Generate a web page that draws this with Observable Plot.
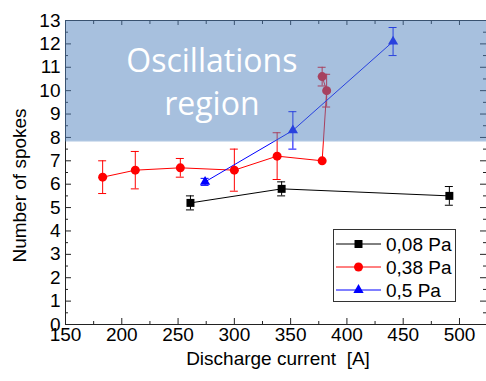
<!DOCTYPE html>
<html><head><meta charset="utf-8">
<script src="https://cdn.jsdelivr.net/npm/d3@7"></script>
<script src="https://cdn.jsdelivr.net/npm/@observablehq/plot@0.6"></script>
<style>
body{margin:0;background:#fff;}
#wrap{position:relative;width:486px;height:381px;overflow:hidden;}
#legend{position:absolute;left:333px;top:229px;width:121px;height:71px;border:1px solid #333;background:#fff;}
</style></head><body><div id="wrap"></div>
<script>
// ---- data ----
const series = ["0,08 Pa", "0,38 Pa", "0,5 Pa"];
const colors = ["#000000", "#ff0000", "#0000ff"];
const symbols = ["square", "circle", "triangle"];
const markerR = [4.5, 4.5, 3.8];

const current008 = [261, 342, 491];
const spokes008 = [5.2, 5.8, 5.5];
const err008 = [0.3, 0.3, 0.4];

const current038 = [183, 212, 252, 300, 338, 378, 382, 378];
const spokes038 = [6.3, 6.6, 6.7, 6.6, 7.2, 7.0, 10.0, 10.6];
const err038 = [0.7, 0.8, 0.4, 0.9, 1.0, 0, 0.7, 0.4];

const current05 = [274, 352, 441];
const spokes05 = [6.1, 8.3, 12.1];
const err05 = [0.15, 0.8, 0.6];

const xTicks = [150, 200, 250, 300, 350, 400, 450, 500];
const yTicks = [0, 1, 2, 3, 4, 5, 6, 7, 8, 9, 10, 11, 12, 13];
const xMinor = [175, 225, 275, 325, 375, 425, 475, 525];
const yMinor = [0.5, 1.5, 2.5, 3.5, 4.5, 5.5, 6.5, 7.5, 8.5, 9.5, 10.5, 11.5, 12.5];
const xDomain = [150, 524];
const yDomain = [0, 13];
const regionLow = 7.85;
const regionLabel = ["Oscillations", "region"];
const regionLabelX = 280;
const regionLabelY = [11.25, 9.4];
const xTitle = "Discharge current\u00a0\u00a0[A]";
const yTitle = "Number of spokes";

// ---- layout ----
const W = 486, H = 381;
const mL = 65, mR = 0, mT = 20, mB = 57;
const plotW = W - mL - mR, plotH = H - mT - mB;

const groups = [
  [current008, spokes008, err008],
  [current038, spokes038, err038],
  [current05, spokes05, err05]
];
const rows = [];
groups.forEach(([xs, ys, es], k) => xs.forEach((x, i) => rows.push({s: series[k], k, x, y: ys[i], e: es[i]})));
const errRows = rows.filter(d => d.e > 0);

const font = "Liberation Sans, Arial, sans-serif";
const axisColor = "#222";

const marks = [
  // frame lines
  Plot.ruleX([xDomain[0]], {stroke: axisColor}),
  Plot.ruleY([yDomain[0]], {stroke: axisColor}),
  Plot.ruleY([yDomain[1]], {stroke: axisColor}),
  // inward ticks
  Plot.tickY(yTicks, {y: d => d, insetRight: plotW - 6, stroke: axisColor}),
  Plot.tickY(yMinor, {y: d => d, insetRight: plotW - 3, stroke: axisColor}),
  Plot.tickY(yTicks, {y: d => d, insetLeft: plotW - 6, stroke: axisColor}),
  Plot.tickY(yMinor, {y: d => d, insetLeft: plotW - 3, stroke: axisColor}),
  Plot.tickX(xTicks, {x: d => d, insetTop: plotH - 6, stroke: axisColor}),
  Plot.tickX(xMinor.filter(v => v <= xDomain[1]), {x: d => d, insetTop: plotH - 3, stroke: axisColor}),
  Plot.tickX(xTicks, {x: d => d, insetBottom: plotH - 5, stroke: axisColor}),
  Plot.tickX(xMinor.filter(v => v <= xDomain[1]), {x: d => d, insetBottom: plotH - 4, stroke: axisColor}),
  // axes labels
  Plot.axisX(xTicks, {tickSize: 0, tickPadding: 3, label: null, fontSize: 19, fill: "#000"}),
  Plot.axisY(yTicks, {tickSize: 0, tickPadding: 5, label: null, fontSize: 19, fill: "#000"}),
  Plot.text([xTitle], {text: d => d, frameAnchor: "bottom", textAnchor: "middle", lineAnchor: "middle", dy: 34, dx: 2, fontSize: 19, fill: "#000"}),
  Plot.text([yTitle], {text: d => d, frameAnchor: "left", textAnchor: "middle", lineAnchor: "middle", dx: -46, dy: 13, rotate: -90, fontSize: 19, fill: "#000"}),
  // error bars
  Plot.ruleX(errRows, {x: "x", y1: d => d.y - d.e, y2: d => d.y + d.e, stroke: "s", strokeWidth: 1}),
  Plot.ruleY(errRows, {x1: "x", x2: "x", y: d => d.y + d.e, stroke: "s", insetLeft: -4, insetRight: -4}),
  Plot.ruleY(errRows, {x1: "x", x2: "x", y: d => d.y - d.e, stroke: "s", insetLeft: -4, insetRight: -4}),
  // lines
  Plot.line(rows, {x: "x", y: "y", z: "s", stroke: "s", strokeWidth: 1}),
  // markers
  ...series.map((s, k) => Plot.dot(rows.filter(d => d.k === k), {x: "x", y: "y", fill: "s", symbol: "s", r: markerR[k], stroke: "none"})),
  // oscillation region overlay
  Plot.rect([{x1: xDomain[0], x2: xDomain[1], y1: regionLow, y2: yDomain[1]}], {x1: "x1", x2: "x2", y1: "y1", y2: "y2", fill: "#4F81BD", fillOpacity: 0.5}),
  Plot.ruleY([regionLow], {stroke: "#4F81BD", strokeOpacity: 0.55}),
  ...regionLabel.map((t, i) => Plot.text([t], {text: d => d, x: regionLabelX, y: regionLabelY[i], fill: "#fff", fontSize: 32, fontFamily: "Open Sans, sans-serif"}))
];

const chart = Plot.plot({
  width: W, height: H,
  marginLeft: mL, marginRight: mR, marginTop: mT, marginBottom: mB,
  style: {fontFamily: font, background: "#fff", overflow: "visible"},
  x: {domain: xDomain, axis: null},
  y: {domain: yDomain, axis: null},
  color: {domain: series, range: colors},
  symbol: {domain: series, range: symbols},
  marks
});

const wrap = document.getElementById("wrap");
wrap.appendChild(chart);

// ---- legend ----
const leg = document.createElement("div");
leg.id = "legend";
wrap.appendChild(leg);
const svg = d3.select(leg).append("svg").attr("width", 121).attr("height", 71);
const symMap = {square: d3.symbolSquare, circle: d3.symbolCircle, triangle: d3.symbolTriangle};
series.forEach((s, k) => {
  const cy = 14 + k * 23;
  const g = svg.append("g");
  g.append("line").attr("x1", 2).attr("x2", 47).attr("y1", cy).attr("y2", cy).attr("stroke", colors[k]).attr("stroke-width", 1);
  g.append("path").attr("transform", `translate(24.5,${cy})`)
    .attr("d", d3.symbol(symMap[symbols[k]], markerR[k] * markerR[k] * Math.PI)())
    .attr("fill", colors[k]);
  g.append("text").attr("x", 52).attr("y", cy).attr("dy", "0.35em")
    .attr("font-family", font).attr("font-size", 19).attr("fill", "#000").text(s);
});
</script>
</body></html>
